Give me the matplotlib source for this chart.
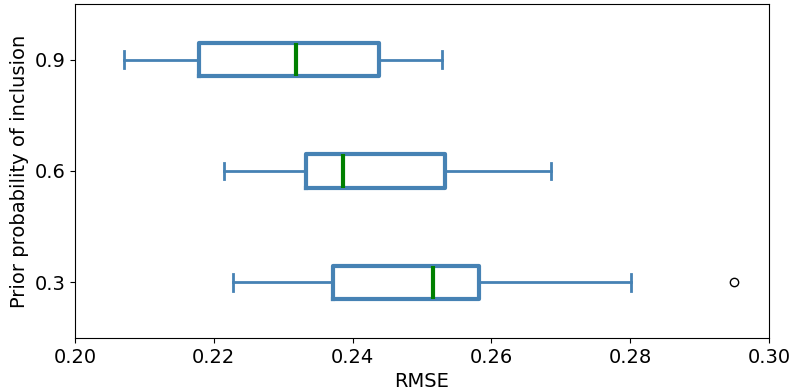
import matplotlib
matplotlib.use("Agg")
import matplotlib.pyplot as plt

# RMSE summary per prior probability of inclusion
priors = ["0.3", "0.6", "0.9"]
whisker_lo = [0.2228, 0.2215, 0.2071]
q1 = [0.2372, 0.2333, 0.2179]
medians = [0.2516, 0.2386, 0.2318]
q3 = [0.2582, 0.2533, 0.2438]
whisker_hi = [0.2801, 0.2686, 0.2529]
outliers = [[0.2950], [], []]

stats = [
    {"label": p, "whislo": lo, "q1": a, "med": m, "q3": b, "whishi": hi, "fliers": f}
    for p, lo, a, m, b, hi, f in zip(priors, whisker_lo, q1, medians, q3, whisker_hi, outliers)
]

fig = plt.figure(figsize=(7.94, 3.91), dpi=100)
ax = fig.add_axes([0.0945, 0.1355, 0.8740, 0.8545])

col = "steelblue"
ax.bxp(stats, vert=False, widths=0.3, showfliers=True,
       boxprops=dict(color=col, linewidth=3),
       whiskerprops=dict(color=col, linewidth=2),
       capprops=dict(color=col, linewidth=2),
       medianprops=dict(color="green", linewidth=3),
       flierprops=dict(marker="o", markerfacecolor="none",
                       markeredgecolor="black", markersize=6))

ax.set_xlim(0.20, 0.30)
ax.set_ylim(0.5, 3.5)
ax.set_xticks([0.20, 0.22, 0.24, 0.26, 0.28, 0.30])
ax.tick_params(labelsize=14)
ax.set_xlabel("RMSE", fontsize=14)
ax.set_ylabel("Prior probability of inclusion", fontsize=14)

fig.savefig("out.png", dpi=100)
